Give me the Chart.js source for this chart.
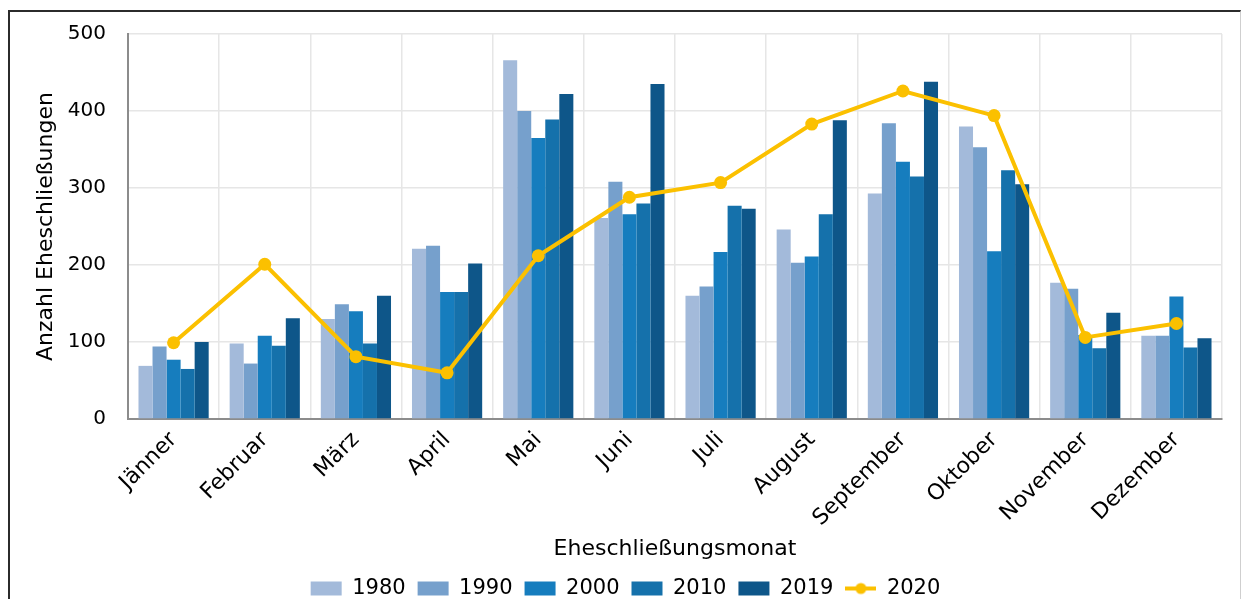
<!DOCTYPE html>
<html>
<head>
<meta charset="utf-8">
<script src="https://cdn.jsdelivr.net/npm/chart.js@4"></script>
<style>
  html, body { margin: 0; padding: 0; background: #fff; }
  #wrap { position: relative; width: 1242px; height: 599px; overflow: hidden; }
  #frame {
    position: absolute; left: 8px; top: 10px; width: 1230px; height: 640px;
    border-top: 2px solid #2b2b2b; border-left: 2px solid #2b2b2b; border-right: 1px solid #cfcfcf;
    pointer-events: none;
  }
  canvas { position: absolute; left: 0; top: 0; }
</style>
</head>
<body>
<div id="wrap">
  <div id="frame"></div>
  <canvas id="myChart" width="1242" height="599"></canvas>
</div>
<script>
const months = ["Jänner", "Februar", "März", "April", "Mai", "Juni", "Juli", "August", "September", "Oktober", "November", "Dezember"];
const values1980 = [69, 98, 130, 221, 466, 261, 160, 246, 293, 380, 177, 108];
const values1990 = [94, 72, 149, 225, 400, 308, 172, 203, 384, 353, 169, 108];
const values2000 = [77, 108, 140, 165, 365, 266, 217, 211, 334, 218, 109, 159];
const values2010 = [65, 95, 98, 165, 389, 280, 277, 266, 315, 323, 92, 93];
const values2019 = [100, 131, 160, 202, 422, 435, 273, 388, 438, 305, 138, 105];
const values2020 = [99, 201, 81, 60, 212, 288, 307, 383, 426, 394, 106, 124];
const yTicks = [0, 100, 200, 300, 400, 500];

const barColors = ["#a3bada", "#76a0cc", "#167dbe", "#1571ab", "#0e5689"];
const lineColor = "#fbc000";
const fontFamily = "'DejaVu Sans', sans-serif";

function barSet(label, data, color) {
  return {
    type: "bar",
    label: label,
    data: data,
    backgroundColor: color,
    borderWidth: 0,
    categoryPercentage: 0.77,
    barPercentage: 1,
    order: 1,
  };
}

// small picture for the 2020 legend entry: a line with a dot
function lineMarker() {
  const c = document.createElement("canvas");
  c.width = 31;
  c.height = 14;
  const g = c.getContext("2d");
  g.strokeStyle = lineColor;
  g.lineWidth = 4;
  g.beginPath();
  g.moveTo(0, 7);
  g.lineTo(31, 7);
  g.stroke();
  g.fillStyle = lineColor;
  g.beginPath();
  g.arc(15.5, 7, 5.5, 0, Math.PI * 2);
  g.fill();
  return c;
}

window.onload = function () {
  const marker = lineMarker();
  const ctx = document.getElementById("myChart");
  new Chart(ctx, {
    data: {
      labels: months,
      datasets: [
        barSet("1980", values1980, barColors[0]),
        barSet("1990", values1990, barColors[1]),
        barSet("2000", values2000, barColors[2]),
        barSet("2010", values2010, barColors[3]),
        barSet("2019", values2019, barColors[4]),
        {
          type: "line",
          label: "2020",
          data: values2020,
          borderColor: lineColor,
          backgroundColor: lineColor,
          borderWidth: 4,
          pointRadius: 6.5,
          pointHoverRadius: 6.5,
          pointBackgroundColor: lineColor,
          pointBorderWidth: 0,
          tension: 0,
          order: 0,
        },
      ],
    },
    options: {
      responsive: false,
      animation: false,
      layout: { padding: { top: 33, right: 20, left: 29, bottom: -10 } },
      plugins: {
        tooltip: { enabled: false },
        legend: {
          position: "bottom",
          labels: {
            usePointStyle: true,
            pointStyleWidth: 31,
            boxHeight: 14,
            padding: 12,
            color: "#000",
            font: { family: fontFamily, size: 21 },
            generateLabels: function (chart) {
              const items = Chart.defaults.plugins.legend.labels.generateLabels(chart);
              items.sort((a, b) => a.datasetIndex - b.datasetIndex);
              items.forEach((item) => {
                item.lineWidth = 0;
                item.pointStyle = item.datasetIndex === 5 ? marker : "rect";
              });
              return items;
            },
          },
        },
      },
      scales: {
        x: {
          grid: { color: "#e6e6e6", lineWidth: 1.5, drawTicks: false },
          border: { color: "#8c8c8c", width: 2 },
          ticks: {
            color: "#000",
            font: { family: fontFamily, size: 22 },
            minRotation: 45,
            maxRotation: 45,
            padding: 8,
          },
          title: {
            display: true,
            text: "Eheschließungsmonat",
            color: "#000",
            font: { family: fontFamily, size: 22 },
            padding: { top: 4, bottom: 4 },
          },
          afterFit: function (scale) {
            scale.height = 147;
          },
        },
        y: {
          min: 0,
          max: 500,
          grid: { color: "#e6e6e6", lineWidth: 1.5, drawTicks: false },
          border: { color: "#8c8c8c", width: 2 },
          afterBuildTicks: function (scale) {
            scale.ticks = yTicks.map((v) => ({ value: v }));
          },
          ticks: {
            color: "#000",
            font: { family: fontFamily, size: 20 },
            padding: 22,
          },
          title: {
            display: true,
            text: "Anzahl Eheschließungen",
            color: "#000",
            font: { family: fontFamily, size: 22 },
            padding: { top: 4, bottom: 4 },
          },
          afterFit: function (scale) {
            scale.width = 99;
          },
        },
      },
    },
  });
};
</script>
</body>
</html>
